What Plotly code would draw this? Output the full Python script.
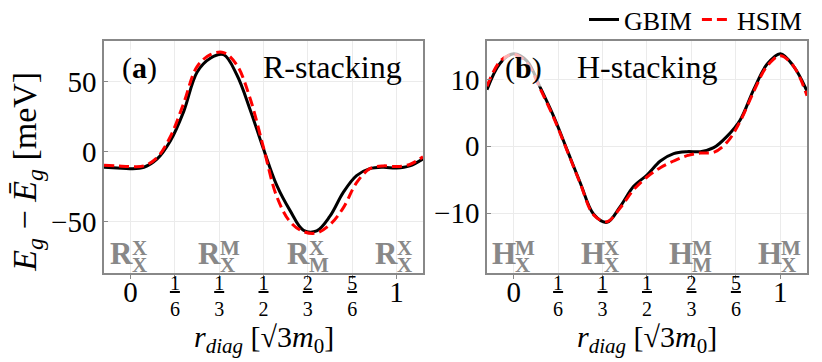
import plotly.graph_objects as go
from plotly.subplots import make_subplots

# sampled positions along the diagonal (units of sqrt(3) m0)
r_diag = [-0.1, -0.05, 0, 0.05, 0.1, 0.15, 0.2, 0.25, 0.3, 0.35, 0.4, 0.45, 0.5,
          0.55, 0.6, 0.65, 0.7, 0.75, 0.8, 0.85, 0.9, 0.95, 1.0, 1.05, 1.1]

# (a) R-stacking, meV
gbim_r = [-11, -11.5, -12, -11, -5, 8, 29, 57, 67, 69.5, 55, 30, 2,
          -24, -42, -56, -56.5, -46, -29, -17, -12, -11, -11.5, -10, -5]
hsim_r = [-9.5, -10, -10.5, -10, -4, 11, 35, 61, 69.5, 71, 62, 38, 3,
          -32, -50, -57, -58, -52, -40, -22, -12, -10, -10.5, -9, -3.5]

# (b) H-stacking, meV
gbim_h = [8.5, 12.5, 13.9, 12.8, 8.8, 4.5, -0.5, -5.5, -10.2, -11.4, -9, -6, -4.3,
          -2.2, -1.1, -0.8, -0.8, -0.2, 1.5, 4.0, 8.5, 12.3, 13.9, 12.0, 8.3]
hsim_h = [9.0, 12.8, 13.8, 12.5, 8.6, 4.3, -0.6, -5.6, -10.3, -11.3, -9.2, -6.5, -4.6,
          -3.2, -2.2, -1.4, -1.0, -0.9, 0.6, 3.8, 8.2, 12.0, 13.6, 12.0, 7.6]

x_tickvals = [0, 1/6, 1/3, 1/2, 2/3, 5/6, 1]
x_int_text = ["0", "", "", "", "", "", "1"]
frac_vals = [1/6, 1/3, 1/2, 2/3, 5/6]
frac_parts = [(1, 6), (1, 3), (1, 2), (2, 3), (5, 6)]

# stacking configurations: (position, base letter, superscript, subscript)
stack_r = [(0, "R", "X", "X"), (1/3, "R", "M", "X"), (2/3, "R", "X", "M"), (1, "R", "X", "X")]
stack_h = [(0, "H", "M", "X"), (1/3, "H", "X", "X"), (2/3, "H", "M", "M"), (1, "H", "M", "X")]

FONT = "Liberation Serif"
GRAY = "#888888"
X_RANGE = [-0.1, 1.1]

frac_text = [f"<span style='text-decoration:underline'>{n}</span><br>{d}" for n, d in frac_parts]

fig = make_subplots(rows=1, cols=2)

for col, (g, h) in enumerate([(gbim_r, hsim_r), (gbim_h, hsim_h)], start=1):
    fig.add_trace(go.Scatter(x=r_diag, y=g, mode="lines", name="GBIM",
                             line=dict(color="black", width=3, shape="spline"),
                             showlegend=(col == 1)), row=1, col=col)
    fig.add_trace(go.Scatter(x=r_diag, y=h, mode="lines", name="HSIM",
                             line=dict(color="#ff0000", width=3, dash="10px,5px", shape="spline"),
                             showlegend=(col == 1)), row=1, col=col)

# empty traces so the fraction tick axes get drawn
for xa, ya in [("x3", "y"), ("x4", "y2")]:
    fig.add_trace(go.Scatter(x=[None], y=[None], xaxis=xa, yaxis=ya, showlegend=False,
                             hoverinfo="skip"))

axis_style = dict(showline=True, linecolor=GRAY, linewidth=1.5, mirror=True,
                  showgrid=True, gridcolor="#ebebeb", gridwidth=1, zeroline=False,
                  tickcolor=GRAY, ticklen=4, automargin=False)

fig.update_xaxes(**axis_style, range=X_RANGE, tickmode="array",
                 tickvals=x_tickvals, ticktext=x_int_text, ticks="outside",
                 ticklabelstandoff=-12,
                 tickfont=dict(family=FONT, size=29, color="black"))
fig.update_yaxes(**axis_style, ticks="inside",
                 tickfont=dict(family=FONT, size=29, color="black"))

frac_axis = dict(range=X_RANGE, tickmode="array", tickvals=frac_vals, ticktext=frac_text,
                 showgrid=False, showline=False, zeroline=False, ticks="", side="bottom",
                 ticklabelstandoff=-4, automargin=False,
                 tickfont=dict(family=FONT, size=20, color="black"))

# the page body adds 8px around the figure, so the figure is 8px smaller and
# its top/left margins are 8px narrower
fig.update_layout(
    width=814, height=354,
    margin=dict(l=96, r=15, t=33, b=89, autoexpand=False),
    plot_bgcolor="white", paper_bgcolor="white",
    xaxis=dict(domain=[0, 0.4538]),
    xaxis2=dict(domain=[0.5448, 1.0]),
    xaxis3=dict(frac_axis, domain=[0, 0.4538], overlaying="x", anchor="y"),
    xaxis4=dict(frac_axis, domain=[0.5448, 1.0], overlaying="x2", anchor="y2"),
    yaxis=dict(range=[-86.6, 79.3], tickvals=[-50, 0, 50]),
    yaxis2=dict(range=[-19.0, 15.8], tickvals=[-10, 0, 10]),
    legend=dict(orientation="h", x=1.0, xanchor="right", y=1.092, yanchor="middle",
                font=dict(family=FONT, size=26, color="black"), bgcolor="rgba(0,0,0,0)",
                itemwidth=30),
    font=dict(family=FONT),
)

# axis titles
x_title = "<i>r</i><sub><i>diag</i></sub> [√3<i>m</i><sub>0</sub>]"
for xr in ["x domain", "x2 domain"]:
    fig.add_annotation(text=x_title, xref=xr, yref="paper", x=0.5, y=-0.285,
                       xanchor="center", yanchor="middle", showarrow=False,
                       font=dict(family=FONT, size=30, color="black"))

fig.add_annotation(text="<i>E</i><sub><i>g</i></sub> − <i>Ē</i><sub><i>g</i></sub> [meV]",
                   xref="paper", yref="paper", x=-0.11, y=0.5, yshift=-15,
                   xanchor="center", yanchor="middle",
                   textangle=-90, showarrow=False, font=dict(family=FONT, size=34, color="black"))

# panel labels
for xr, yr, lab, lx, name, nx in [("x domain", "y domain", "(<b>a</b>)", 0.11, "R-stacking", 0.715),
                                  ("x2 domain", "y2 domain", "(<b>b</b>)", 0.115, "H-stacking", 0.5)]:
    fig.add_annotation(text=lab, xref=xr, yref=yr, x=lx, y=0.884, showarrow=False,
                       xanchor="center", yanchor="middle", bgcolor="rgba(255,255,255,0.7)",
                       font=dict(family=FONT, size=30, color="black"))
    fig.add_annotation(text=name, xref=xr, yref=yr, x=nx, y=0.888, showarrow=False,
                       xanchor="center", yanchor="middle",
                       font=dict(family=FONT, size=32, color="black"))

# stacking labels along the bottom of each panel
for xr, yr, labels in [("x", "y domain", stack_r), ("x2", "y2 domain", stack_h)]:
    for pos, base, sup, sub in labels:
        fig.add_annotation(text=f"<b>{base}</b>", xref=xr, yref=yr, x=pos, y=0.082,
                           xanchor="right", yanchor="middle", xshift=4, showarrow=False,
                           font=dict(family=FONT, size=31, color=GRAY))
        fig.add_annotation(text=f"<b>{sup}</b>", xref=xr, yref=yr, x=pos, y=0.108,
                           xanchor="left", yanchor="middle", xshift=-1, showarrow=False,
                           font=dict(family=FONT, size=21, color=GRAY))
        fig.add_annotation(text=f"<b>{sub}</b>", xref=xr, yref=yr, x=pos, y=0.036,
                           xanchor="left", yanchor="middle", xshift=-1, showarrow=False,
                           font=dict(family=FONT, size=21, color=GRAY))

fig.write_html("out.html")
